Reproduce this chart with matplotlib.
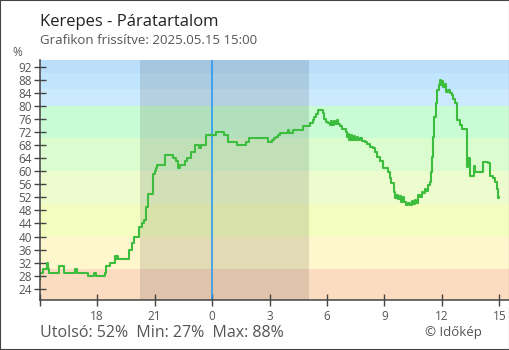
import matplotlib
matplotlib.use("Agg")
import matplotlib.pyplot as plt
from matplotlib.patches import Rectangle

plt.rcParams['font.family'] = ['Open Sans', 'DejaVu Sans']

# humidity readings (clock time, %)
times = [
    "15:00", "15:02", "15:11", "15:22", "15:25", "15:29", "16:02", "16:17", "16:51", "16:57",
    "17:31", "17:50", "17:56", "18:26", "18:28", "18:40", "18:56", "19:00", "19:03", "19:05",
    "19:41", "19:48", "19:55", "20:12", "20:20", "20:28", "20:34", "20:41", "20:56", "21:00",
    "21:04", "21:07", "21:32", "21:58", "22:07", "22:14", "22:19", "22:36", "22:41", "22:54",
    "23:06", "23:19", "23:27", "23:42", "00:13", "00:38", "00:50", "01:17", "01:45", "01:56",
    "02:56", "03:09", "03:13", "03:19", "03:26", "03:34", "03:58", "04:01", "04:14", "04:45",
    "05:06", "05:16", "05:20", "05:25", "05:31", "05:46", "05:50", "05:56", "06:02", "06:08",
    "06:11", "06:16", "06:21", "06:26", "06:31", "06:35", "06:40", "06:46", "06:58", "07:02",
    "07:07", "07:10", "07:15", "07:19", "07:24", "07:29", "07:33", "07:38", "07:43", "07:49",
    "08:00", "08:05", "08:14", "08:25", "08:30", "08:37", "08:45", "08:54", "09:11", "09:17",
    "09:22", "09:29", "09:34", "09:39", "09:43", "09:48", "09:53", "09:58", "10:02", "10:07",
    "10:13", "10:19", "10:25", "10:30", "10:35", "10:39", "10:45", "10:50", "10:56", "11:00",
    "11:06", "11:11", "11:16", "11:24", "11:27", "11:29", "11:32", "11:35", "11:40", "11:43",
    "11:46", "11:50", "11:53", "11:56", "11:58", "12:03", "12:09", "12:14", "12:19", "12:24",
    "12:30", "12:35", "12:40", "12:46", "12:56", "13:03", "13:17", "13:19", "13:22", "13:28",
    "13:39", "13:44", "14:10", "14:23", "14:31", "14:40", "14:47", "14:52", "14:57", "15:00",
]
humidity = [
    27, 29, 30, 32, 30, 29, 31, 29, 30, 29,
    28, 29, 28, 29, 31, 32, 34, 33, 34, 33,
    36, 38, 40, 43, 44, 45, 49, 53, 59, 60,
    61, 62, 65, 64, 63, 61, 62, 63, 64, 66,
    68, 67, 68, 71, 72, 71, 69, 68, 69, 70,
    69, 69.5, 70, 70.6, 71.1, 71.7, 72.7, 71.7, 72.6, 73.9,
    74.8, 75.6, 76.5, 77.5, 78.7, 77.7, 76.1, 75.1, 74.8, 74.0,
    75.2, 74.0, 75.4, 74.5, 75.6, 74.3, 73.8, 72.8, 72.0, 70.3,
    71.5, 69.6, 71.0, 69.6, 70.8, 69.5, 70.5, 69.4, 70.2, 69.2,
    68.8, 68.2, 67.5, 67.0, 66.0, 64.4, 63.1, 60.9, 59.8, 57.8,
    56.3, 53.7, 51.7, 52.8, 51.5, 52.5, 50.6, 52.0, 50.5, 49.8,
    50.3, 49.6, 50.8, 50.0, 51.2, 50.4, 52.7, 52.0, 53.7, 53.2,
    54.7, 54.0, 55.7, 56.8, 59.8, 64.4, 70.5, 76.6, 80.7, 83.3,
    84.8, 86.3, 87.9, 86.5, 87.5, 85.8, 86.8, 84.3, 84.8, 83.8,
    83.3, 82.0, 80.7, 75.6, 74.1, 72.8, 67.2, 61.3, 63.9, 58.5,
    61.6, 59.8, 62.9, 62.4, 58.5, 57.8, 56.8, 54.7, 51.7, 52,
]

# background bands (lower bound, upper bound, colour)
band_edges = [0, 30, 40, 50, 60, 70, 80, 85, 90, 100]
band_colors = ["#fbdcc0", "#fef6cc", "#f4fdc0", "#edfcce", "#dbfccf",
               "#c9fcd5", "#cceafd", "#c1e5fc", "#bbdefb"]

night = ("20:14", "05:04")
now = "00:00"
tick_labels = ["", "18", "21", "0", "3", "6", "9", "12", "15"]


def to_hours(labels):
    # hours since 15:00 of the first day, unwrapping past midnight
    out = []
    offset = 0
    prev = None
    for t in labels:
        hh, mm = t.split(":")
        h = int(hh) + int(mm) / 60 + offset
        if prev is not None and h < prev:
            offset += 24
            h += 24
        out.append(h - 15)
        prev = h
    return out


x = to_hours(times)

fig = plt.figure(figsize=(5.1, 3.5), dpi=100)
ax = fig.add_axes([39.6 / 510, 50 / 350, (509 - 39.6) / 510, 240 / 350])
ax.set_xlim(0, 24.5)
ax.set_ylim(20.6, 94.0)

for lo, hi, c in zip(band_edges[:-1], band_edges[1:], band_colors):
    ax.axhspan(lo, hi, color=c, lw=0, zorder=0)

n0, n1 = to_hours(list(night))
ax.axvspan(n0, n1, color="black", alpha=0.11, lw=0, zorder=1)
ax.axvline(to_hours([now])[0] + 24, color="#2196f3", lw=1.1, zorder=2)

ax.plot(x, humidity, drawstyle="steps-post", color="#3dbd3d", lw=1.5, zorder=3)

ax.set_xticks(range(0, 25, 3))
ax.set_xticklabels(tick_labels)
ax.set_yticks(range(24, 93, 4))
ax.tick_params(axis="both", direction="inout", length=9, width=1, color="#444444",
               labelcolor="#555555", labelsize=8.5)
ax.tick_params(axis="y", pad=1)
ax.tick_params(axis="x", pad=2.5)
for s in ["top", "right"]:
    ax.spines[s].set_visible(False)
for s in ["left", "bottom"]:
    ax.spines[s].set_color("#444444")
    ax.spines[s].set_linewidth(1.1)
    ax.spines[s].set_zorder(4)

fig.text(40 / 510, 1 - 25.7 / 350, "Kerepes - Páratartalom", fontsize=12, color="#222222",
         va="baseline")
fig.text(40 / 510, 1 - 44.3 / 350, "Grafikon frissítve: 2025.05.15 15:00", fontsize=9.5,
         color="#555555", va="baseline")
fig.text(17 / 510, 1 - 52 / 350, "%", fontsize=8.5, color="#555555", ha="center", va="center")
fig.text(40 / 510, 1 - 337.3 / 350, "Utolsó: 52%  Min: 27%  Max: 88%", fontsize=11.5,
         color="#555555", va="baseline")
fig.text(482 / 510, 1 - 336 / 350, "© Időkép", fontsize=9.5, color="#555555",
         ha="right", va="baseline")

fig.patches.append(Rectangle((0, 0), 1, 1, transform=fig.transFigure, fill=False,
                             edgecolor="#444444", lw=1.5))

fig.savefig("out.png", dpi=100)
